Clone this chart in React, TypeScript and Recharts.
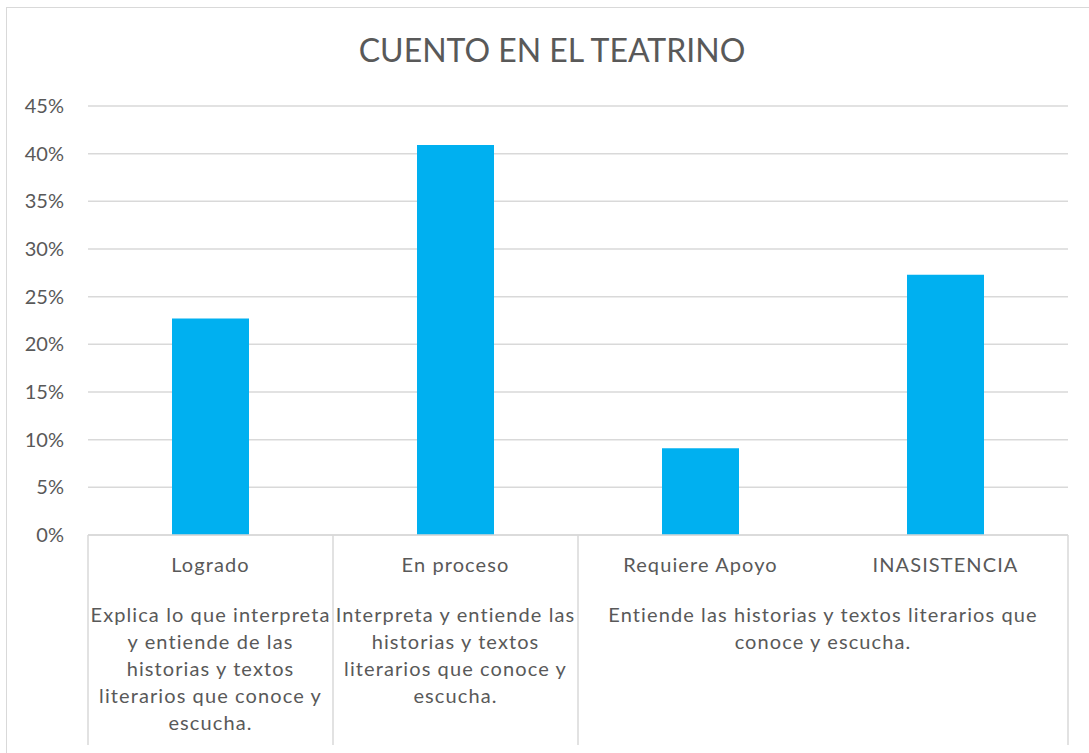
import { BarChart, Bar, XAxis, YAxis, CartesianGrid } from "recharts";

// datos del gráfico
const categories = ["Logrado", "En proceso", "Requiere Apoyo", "INASISTENCIA"];
const values = [0.227, 0.409, 0.091, 0.273];
const yTicks = [0, 0.05, 0.1, 0.15, 0.2, 0.25, 0.3, 0.35, 0.4, 0.45];

// grupo (segundo nivel del eje) de cada categoría
const groupOf = [0, 1, 2, 2];
const groupLines = [
  ["Explica lo que interpreta", "y entiende de las", "historias y textos", "literarios que conoce y", "escucha."],
  ["Interpreta y entiende las", "historias y textos", "literarios que conoce y", "escucha."],
  ["Entiende las historias y textos literarios que", "conoce y escucha."],
];

const TEXT = "#595959";
const LINE = "#d9d9d9";
const FONT = "Lato, 'Open Sans', sans-serif";

const data = categories.map((c, i) => ({ name: c, value: values[i] }));

function CategoryTick(props: any) {
  const { x, y, payload, index } = props;
  const half = payload?.offset ?? 122.5;
  const g = groupOf[index];
  const isFirst = index === 0 || groupOf[index - 1] !== g;
  const isLast = index === categories.length - 1;
  const span = groupOf.filter((v) => v === g).length;
  const groupCenter = x - half + span * half;
  return (
    <g>
      <text x={x} y={y + 37} textAnchor="middle" fill={TEXT} fontSize={20} fontFamily={FONT} letterSpacing={1.1}>
        {payload.value}
      </text>
      {isFirst && <line x1={x - half} x2={x - half} y1={y} y2={y + 210} stroke={LINE} strokeWidth={1.5} />}
      {isLast && <line x1={x + half} x2={x + half} y1={y} y2={y + 210} stroke={LINE} strokeWidth={1.5} />}
      {isFirst &&
        groupLines[g].map((line, i) => (
          <text
            key={i}
            x={groupCenter}
            y={y + 87 + i * 27}
            textAnchor="middle"
            fill={TEXT}
            fontSize={20}
            fontFamily={FONT}
            letterSpacing={1.1}
          >
            {line}
          </text>
        ))}
    </g>
  );
}

export default function App() {
  return (
    <div style={{ position: "absolute", left: 0, top: 0, width: 1089, height: 753, background: "#fff", overflow: "hidden" }}>
      <div
        style={{
          position: "absolute",
          left: 6,
          top: 7,
          width: 1200,
          height: 800,
          borderTop: `1.5px solid ${LINE}`,
          borderLeft: `1.5px solid ${LINE}`,
        }}
      />
      <div
        style={{
          position: "absolute",
          left: 0,
          width: 1104,
          top: 30,
          textAlign: "center",
          fontFamily: FONT,
          fontSize: 32,
          color: TEXT,
        }}
      >
        CUENTO EN EL TEATRINO
      </div>
      <div style={{ position: "absolute", left: 0, top: 0 }}>
        <BarChart width={1089} height={753} data={data} margin={{ top: 106, right: 21, bottom: 8, left: 0 }} barSize={77}>
          <CartesianGrid vertical={false} stroke={LINE} strokeWidth={1.5} />
          <XAxis
            dataKey="name"
            height={210}
            axisLine={{ stroke: LINE, strokeWidth: 1.5 }}
            tickLine={false}
            tickSize={0}
            tickMargin={0}
            interval={0}
            tick={<CategoryTick />}
          />
          <YAxis
            width={88}
            domain={[0, 0.45]}
            ticks={yTicks}
            axisLine={false}
            tickLine={false}
            tickSize={0}
            tickMargin={24}
            tickFormatter={(v: number) => `${Math.round(v * 100)}%`}
            tick={{ fill: TEXT, fontSize: 20, fontFamily: FONT }}
          />
          <Bar dataKey="value" fill="#00b0f0" isAnimationActive={false} />
        </BarChart>
      </div>
    </div>
  );
}
